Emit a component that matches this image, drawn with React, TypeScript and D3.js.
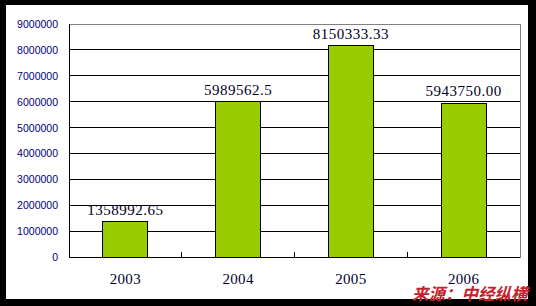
import React from "react";
import * as d3 from "d3";

const years = ["2003", "2004", "2005", "2006"];
const values = [1358992.65, 5989562.5, 8150333.33, 5943750.0];
const valueLabels = ["1358992.65", "5989562.5", "8150333.33", "5943750.00"];
const yTicks = [0, 1000000, 2000000, 3000000, 4000000, 5000000, 6000000, 7000000, 8000000, 9000000];
const sourceText = "来源：中经纵横";

const W = 536;
const H = 306;
const plot = { left: 69, right: 520, top: 24, bottom: 257 };

export default function App() {
  const x = d3.scaleBand<string>().domain(years).range([plot.left, plot.right]).paddingInner(0).paddingOuter(0);
  const y = d3.scaleLinear().domain([0, 9000000]).range([plot.bottom, plot.top]);
  const step = x.step();
  const barW = step * 0.4;
  const serif = "'Liberation Serif', 'DejaVu Serif', serif";

  return (
    <svg width={W} height={H} style={{ position: "absolute", left: 0, top: 0 }}>
      <rect x={0} y={0} width={W} height={H} fill="#000" />
      <rect x={6} y={5} width={522} height={294} fill="#fff" />
      {yTicks.slice(1, -1).map((t) => (
        <line key={t} x1={plot.left} x2={plot.right} y1={y(t)} y2={y(t)} stroke="#000" strokeWidth={1} shapeRendering="crispEdges" />
      ))}
      <rect x={plot.left} y={plot.top} width={plot.right - plot.left} height={plot.bottom - plot.top} fill="none" stroke="#808080" strokeWidth={1} shapeRendering="crispEdges" />
      {years.map((yr, i) => {
        const cx = (x(yr) as number) + step / 2;
        return (
          <rect key={yr} x={cx - barW / 2} y={y(values[i])} width={barW} height={plot.bottom - y(values[i])} fill="#99cc00" stroke="#000" strokeWidth={1} shapeRendering="crispEdges" />
        );
      })}
      <line x1={plot.left} x2={plot.left} y1={plot.top} y2={plot.bottom} stroke="#000" shapeRendering="crispEdges" />
      <line x1={plot.left} x2={plot.right} y1={plot.bottom} y2={plot.bottom} stroke="#000" shapeRendering="crispEdges" />
      {years.slice(1).map((yr) => (
        <line key={yr} x1={x(yr) as number} x2={x(yr) as number} y1={plot.bottom - 5} y2={plot.bottom} stroke="#000" shapeRendering="crispEdges" />
      ))}
      {yTicks.map((t) => (
        <text key={t} x={58} y={y(t) + 4} textAnchor="end" fontFamily="'Liberation Sans', Arial, sans-serif" fontSize={10.5} fill="#000080">
          {t}
        </text>
      ))}
      {years.map((yr) => (
        <text key={yr} x={(x(yr) as number) + step / 2} y={284} textAnchor="middle" fontFamily={serif} fontSize={15} letterSpacing={0.3} fill="#000033">
          {yr}
        </text>
      ))}
      {years.map((yr, i) => (
        <text key={yr} x={(x(yr) as number) + step / 2} y={y(values[i]) - 7} textAnchor="middle" fontFamily={serif} fontSize={15} letterSpacing={0.5} fill="#000022">
          {valueLabels[i]}
        </text>
      ))}
      <text x={412} y={300} fontFamily="'Noto Sans CJK SC', sans-serif" fontWeight="bold" fontSize={16.5} fontStyle="italic" fill="#c8202a">
        {sourceText}
      </text>
    </svg>
  );
}
